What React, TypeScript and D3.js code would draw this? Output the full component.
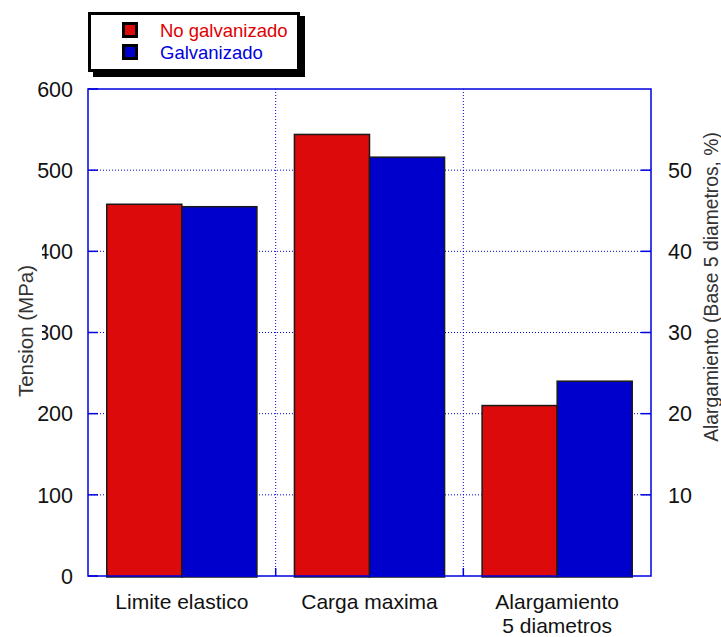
import React from "react";
import * as d3 from "d3";

const categories = ["Limite elastico", "Carga maxima", "Alargamiento\n5 diametros"];
const seriesNames = ["No galvanizado", "Galvanizado"];
const noGalvanizado = [458, 544, 21];
const galvanizado = [455, 516, 24];
const valueAxis = ["left", "left", "right"];
const leftTicks = [0, 100, 200, 300, 400, 500, 600];
const rightTicks = [10, 20, 30, 40, 50];
const seriesColors = ["#dc0a0a", "#0000cc"];

const W = 721;
const H = 637;
const M = { left: 88, right: 651, top: 89, bottom: 576 };
const FONT = "'Liberation Sans', Arial, Helvetica, sans-serif";
const AXIS = "#0000e0";

export default function App() {
  const x = d3.scaleBand<string>().domain(categories).range([M.left, M.right]).padding(0);
  const xs = d3.scaleBand<string>().domain(seriesNames).range([0, x.bandwidth()]).paddingInner(0).paddingOuter(0.25);
  const yL = d3.scaleLinear().domain([0, 600]).range([M.bottom, M.top]);
  const yR = d3.scaleLinear().domain([0, 60]).range([M.bottom, M.top]);
  const seriesData = [noGalvanizado, galvanizado];

  const boundaries = categories.slice(1).map((c) => x(c) as number);

  return (
    <svg width={W} height={H} style={{ position: "absolute", left: 0, top: 0, background: "#fff" }} fontFamily={FONT}>
      <rect x={0} y={0} width={W} height={H} fill="#fff" />
      {/* grid */}
      {leftTicks.filter((t) => t > 0 && t < 600).map((t) => (
        <line key={"g" + t} x1={M.left} x2={M.right} y1={yL(t)} y2={yL(t)} stroke={AXIS} strokeWidth={1} strokeDasharray="1,2" />
      ))}
      {boundaries.map((b, i) => (
        <line key={"v" + i} x1={b} x2={b} y1={M.top} y2={M.bottom} stroke={AXIS} strokeWidth={1} strokeDasharray="1,2" />
      ))}
      {/* bars */}
      {categories.map((c, ci) =>
        seriesNames.map((s, si) => {
          const v = seriesData[si][ci];
          const y = valueAxis[ci] === "left" ? yL : yR;
          const bx = (x(c) as number) + (xs(s) as number);
          return (
            <rect key={c + s} x={bx} y={y(v)} width={xs.bandwidth()} height={M.bottom + 1 - y(v)}
              fill={seriesColors[si]} stroke="#1a1a1a" strokeWidth={1.5} />
          );
        })
      )}
      {/* frame */}
      <rect x={M.left} y={M.top} width={M.right - M.left} height={M.bottom - M.top} fill="none" stroke={AXIS} strokeWidth={1.5} />
      {/* left ticks */}
      {leftTicks.map((t) => (
        <g key={"l" + t}>
          <line x1={M.left} x2={M.left + 10} y1={yL(t)} y2={yL(t)} stroke={AXIS} strokeWidth={1.5} />
          <text x={73} y={yL(t)} dy="0.36em" textAnchor="end" fontSize={21.5} fill="#111">{t}</text>
        </g>
      ))}
      {/* right ticks */}
      {rightTicks.map((t) => (
        <g key={"r" + t}>
          <line x1={M.right - 10} x2={M.right} y1={yR(t)} y2={yR(t)} stroke={AXIS} strokeWidth={1.5} />
          <text x={668} y={yR(t)} dy="0.36em" textAnchor="start" fontSize={21.5} fill="#111">{t}</text>
        </g>
      ))}
      {/* bottom ticks */}
      {boundaries.map((b, i) => (
        <line key={"bt" + i} x1={b} x2={b} y1={M.bottom - 8} y2={M.bottom} stroke={AXIS} strokeWidth={1.5} />
      ))}
      {/* x labels */}
      {categories.map((c) => {
        const lines = c.split("\n");
        const cx = (x(c) as number) + x.bandwidth() / 2;
        return (
          <text key={"x" + c} x={cx} y={609} textAnchor="middle" fontSize={21} fill="#111">
            {lines.map((ln, i) => (
              <tspan key={i} x={cx} dy={i === 0 ? 0 : 24}>{ln}</tspan>
            ))}
          </text>
        );
      })}
      {/* axis titles with white boxes */}
      <rect x={0} y={243} width={42} height={160} fill="#fff" />
      <text transform={`translate(33,331) rotate(-90)`} textAnchor="middle" fontSize={20.5} fill="#333">Tension (MPa)</text>
      <rect x={694} y={128} width={27} height={318} fill="#fff" />
      <text transform={`translate(718,287) rotate(-90)`} textAnchor="middle" fontSize={19.3} fill="#333">Alargamiento (Base 5 diametros, %)</text>
      {/* legend */}
      <rect x={93} y={16} width={212} height={61} fill="#000" />
      <rect x={89.5} y={13.5} width={209} height={57} fill="#fff" stroke="#000" strokeWidth={3} />
      {seriesNames.map((s, i) => {
        const cy = 30 + i * 22;
        return (
          <g key={"lg" + s}>
            <rect x={122} y={cy - 8} width={16} height={16} fill="#000" />
            <rect x={125} y={cy - 5} width={10} height={10} fill={seriesColors[i]} />
            <text x={160} y={cy} dy="0.36em" fontSize={18.5} fill={i === 0 ? "#e00000" : "#0000dd"}>{s}</text>
          </g>
        );
      })}
    </svg>
  );
}
